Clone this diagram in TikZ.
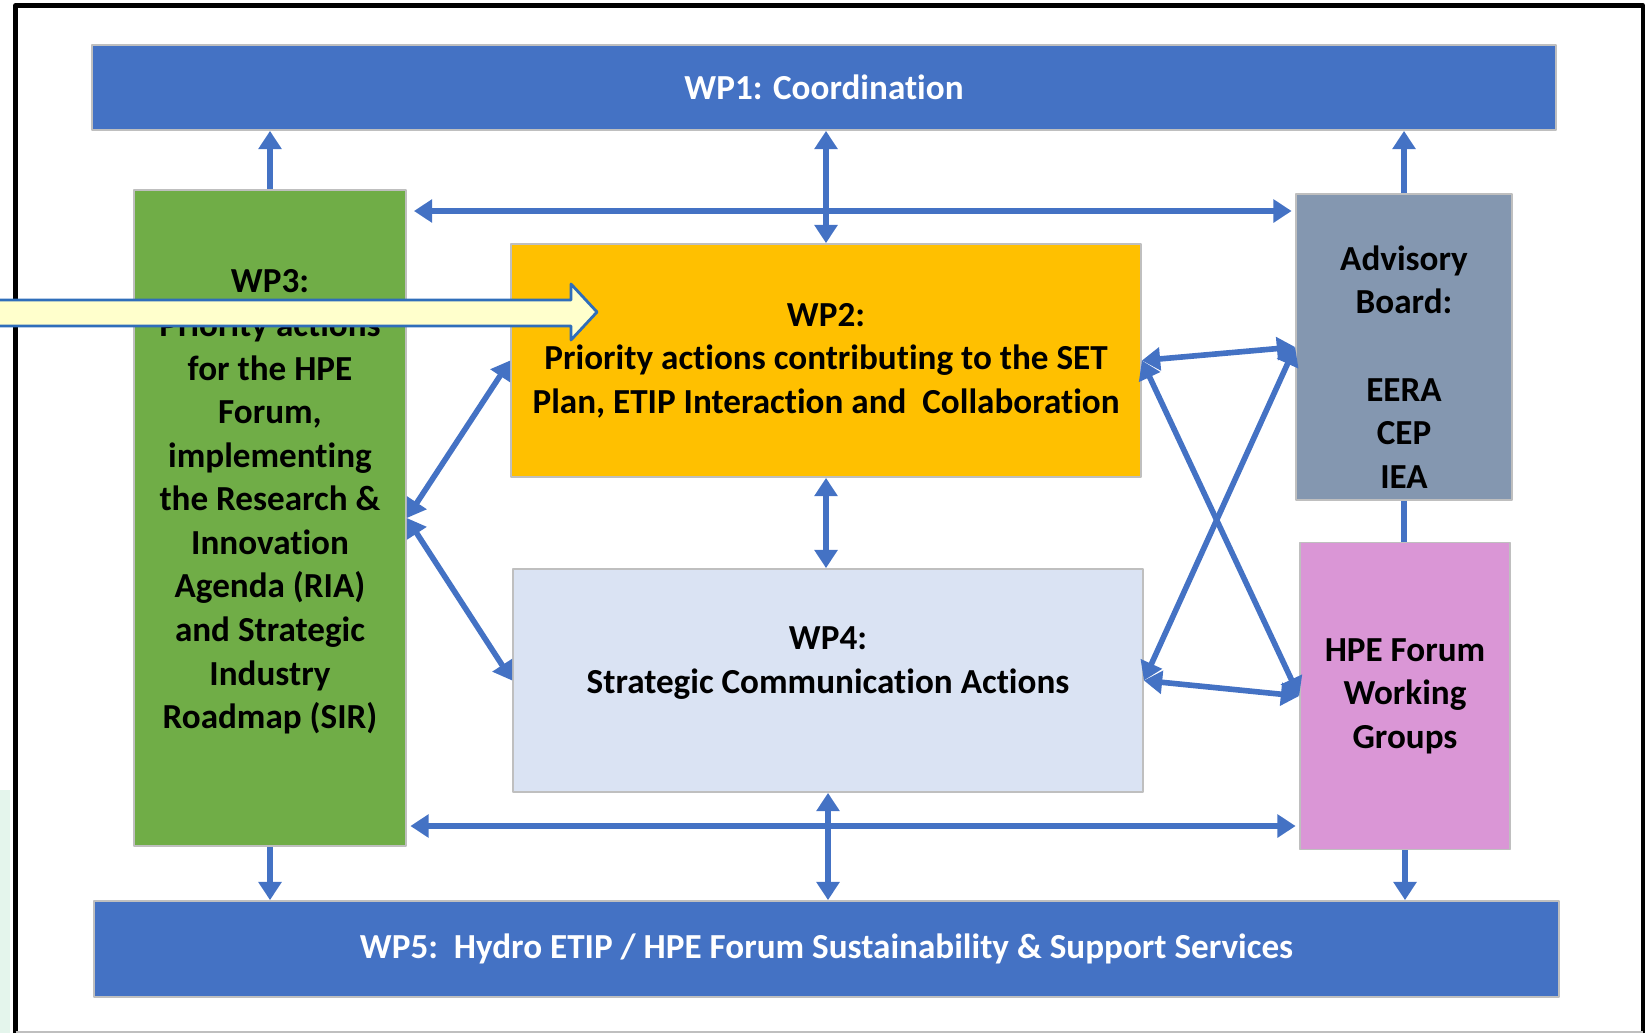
\documentclass[tikz,border=0pt]{standalone}
\usepackage{fontspec}
\setmainfont{Carlito}[Ligatures=NoCommon]
\usetikzlibrary{arrows.meta}
\definecolor{wpblue}{HTML}{4472C4}
\definecolor{wpgreen}{HTML}{70AD47}
\definecolor{wporange}{HTML}{FFC000}
\definecolor{wplight}{HTML}{DAE3F3}
\definecolor{wpgrey}{HTML}{8497B0}
\definecolor{wppink}{HTML}{DA96D6}
\definecolor{boxline}{HTML}{BFBFBF}
\definecolor{hint}{HTML}{FFFFCC}
\definecolor{hintline}{HTML}{2F6EBA}
\definecolor{tint}{HTML}{E4F5EC}
\begin{document}
\begin{tikzpicture}[x=1cm, y=-1cm, line join=round, >={Triangle[length=5.2pt,width=6.4pt]},
    font=\fontsize{10}{12.4}\selectfont\bfseries,
    box/.style={draw=boxline, line width=0.5pt, inner sep=0pt, align=center},
    txt/.style={align=center, inner sep=0pt},
    link/.style={wpblue, line width=1.6pt}]
	\useasboundingbox (0,0) rectangle (16.52,10.33);
	\fill[tint] (0,7.9) rectangle (0.1,10.33);
	\draw[line width=1.2pt] (0.155,10.33) -- (0.155,0.055) -- (16.43,0.055) -- (16.43,10.33);
	\draw[boxline] (0.155,10.32) -- (16.43,10.32);
	% work packages
	\node[box, fill=wpblue, text=white, minimum width=14.64cm, minimum height=0.85cm] (wp1) at (8.24,0.875) {WP1: Coordination};
	\node[box, fill=wpblue, text=white, minimum width=14.65cm, minimum height=0.96cm] (wp5) at (8.265,9.49) {WP5:\ \ Hydro ETIP / HPE Forum Sustainability \& Support Services};
	\node[box, fill=wpgreen, minimum width=2.72cm, minimum height=6.56cm] (wp3) at (2.70,5.18) {};
	\node[txt] (wp3t) at (2.70,5.02) {WP3:\\Priority actions\\for the HPE\\Forum,\\implementing\\the Research \&\\Innovation\\Agenda (RIA)\\and Strategic\\Industry\\Roadmap (SIR)};
	\node[box, fill=wporange, minimum width=6.30cm, minimum height=2.33cm] (wp2) at (8.26,3.605) {WP2:\\Priority actions contributing to the SET\\Plan, ETIP Interaction and\ \ Collaboration};
	\node[box, fill=wplight, minimum width=6.30cm, minimum height=2.23cm] (wp4) at (8.28,6.805) {};
	\node[txt] (wp4t) at (8.28,6.63) {WP4:\\Strategic Communication Actions};
	\node[box, fill=wpgrey, minimum width=2.16cm, minimum height=3.06cm] (adv) at (14.04,3.47) {};
	\node[txt] (advt) at (14.04,3.67) {Advisory\\Board:\\[\baselineskip]EERA\\CEP\\IEA};
	\node[box, fill=wppink, minimum width=2.10cm, minimum height=3.07cm] (hpe) at (14.05,6.96) {HPE Forum\\Working\\Groups};
	% links
	\coordinate (top) at (8.26,2.11);
	\coordinate (bot) at (8.26,8.26);
	\draw[link,->] (wp3.north) -- (wp3.north |- wp1.south);
	\draw[link,->] (wp3.south) -- (wp3.south |- wp5.north);
	\draw[link,->] (adv.north) -- (adv.north |- wp1.south);
	\draw[link,->] (hpe.south) -- (hpe.south |- wp5.north);
	\draw[link] (adv.south) -- (adv.south |- hpe.north);
	\draw[link,<->] (wp2.north) -- (wp2.north |- wp1.south);
	\draw[link,<->] (wp2.south) -- (wp2.south |- wp4.north);
	\draw[link,<->] (wp4.south) -- (wp4.south |- wp5.north);
	\draw[link,<->,shorten <=2pt,shorten >=1pt] (wp3.east |- top) -- (adv.west |- top);
	\draw[link,<->,shorten <=1pt,shorten >=1pt] (wp3.east |- bot) -- (hpe.west |- bot);
	\foreach \b in {wp2,wp4} \draw[link,<->] (wp3.east) -- (\b.west);
	\foreach \a in {wp2,wp4} \foreach \b in {adv,hpe} \draw[link,<->] (\a.east) -- (\b.west);
	% pointer
	\draw[hintline, fill=hint, line width=0.8pt] (-0.05,3.00) -- (5.71,3.00) -- (5.71,2.84) -- (5.97,3.12) -- (5.71,3.40) -- (5.71,3.26) -- (-0.05,3.26) -- cycle;
\end{tikzpicture}
\end{document}
